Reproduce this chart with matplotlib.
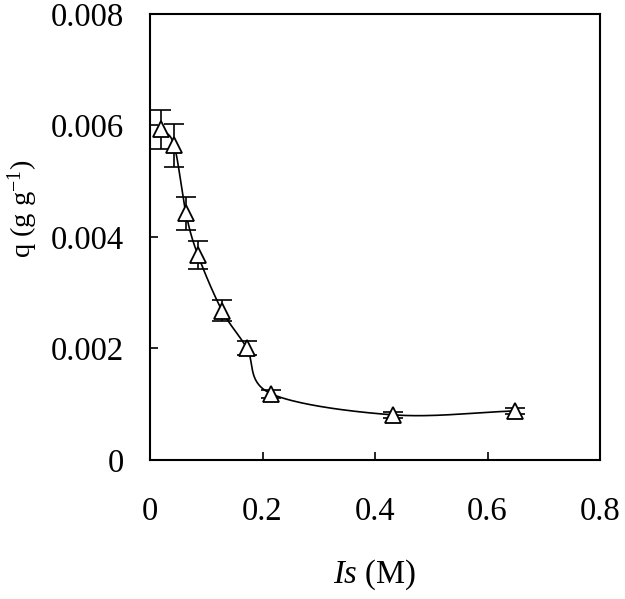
import numpy as np
import matplotlib
matplotlib.use('Agg')
import matplotlib.pyplot as plt

# values
ionic_strength = [0.020, 0.043, 0.064, 0.085, 0.128, 0.172, 0.215, 0.432, 0.649]
q_values = [0.00593, 0.00564, 0.00442, 0.00368, 0.00268, 0.00201, 0.00119, 0.00081, 0.00088]
q_errors = [0.00035, 0.00038, 0.00030, 0.00025, 0.00018, 0.00012, 0.00007, 0.00005, 0.00005]

x_ticks = [0, 0.2, 0.4, 0.6, 0.8]
x_tick_labels = ['0', '0.2', '0.4', '0.6', '0.8']
y_ticks = [0, 0.002, 0.004, 0.006, 0.008]
y_tick_labels = ['0', '0.002', '0.004', '0.006', '0.008']


def smooth_curve(xs, ys, n=40):
    # Catmull-Rom style smoothing, like a spreadsheet "smoothed line"
    xs = np.asarray(xs, float)
    ys = np.asarray(ys, float)
    px = np.concatenate([[2 * xs[0] - xs[1]], xs, [2 * xs[-1] - xs[-2]]])
    py = np.concatenate([[2 * ys[0] - ys[1]], ys, [2 * ys[-1] - ys[-2]]])
    out_x, out_y = [], []
    t = np.linspace(0, 1, n)
    for i in range(1, len(px) - 2):
        # Bezier control points
        c1x = px[i] + (px[i + 1] - px[i - 1]) / 6
        c1y = py[i] + (py[i + 1] - py[i - 1]) / 6
        c2x = px[i + 1] - (px[i + 2] - px[i]) / 6
        c2y = py[i + 1] - (py[i + 2] - py[i]) / 6
        bx = (1 - t) ** 3 * px[i] + 3 * (1 - t) ** 2 * t * c1x + 3 * (1 - t) * t ** 2 * c2x + t ** 3 * px[i + 1]
        by = (1 - t) ** 3 * py[i] + 3 * (1 - t) ** 2 * t * c1y + 3 * (1 - t) * t ** 2 * c2y + t ** 3 * py[i + 1]
        out_x.extend(bx)
        out_y.extend(by)
    return out_x, out_y


plt.rcParams['font.family'] = ['Liberation Serif', 'DejaVu Serif']
plt.rcParams['mathtext.fontset'] = 'custom'
plt.rcParams['mathtext.rm'] = 'Liberation Serif'
plt.rcParams['mathtext.it'] = 'Liberation Serif:italic'

fig = plt.figure(figsize=(6.25, 5.99), dpi=100)
ax = fig.add_axes([0.24, 0.232, 0.72, 0.745])

cx, cy = smooth_curve(ionic_strength, q_values)
ax.plot(cx, cy, color='black', linewidth=1.2)
ax.errorbar(ionic_strength, q_values, yerr=q_errors, fmt='none', ecolor='black',
            elinewidth=1.2, capsize=7, capthick=1.2)
ax.plot(ionic_strength, q_values, linestyle='none', marker='^', markersize=11,
        markerfacecolor='white', markeredgecolor='black', markeredgewidth=1.3)

ax.set_xlim(0, 0.8)
ax.set_ylim(0, 0.008)
ax.set_xticks(x_ticks)
ax.set_xticklabels(x_tick_labels)
ax.set_yticks(y_ticks)
ax.set_yticklabels(y_tick_labels)
ax.tick_params(direction='in', length=6, width=1.2, labelsize=23.5)
ax.tick_params(axis='x', pad=26)
ax.tick_params(axis='y', pad=19)
for spine in ax.spines.values():
    spine.set_linewidth(1.5)

ax.set_xlabel(r'$\mathit{Is}$ (M)', fontsize=23.5, labelpad=22)
ax.set_ylabel(r'q (g g$^{\mathregular{-1}}$)', fontsize=20.5)
ax.yaxis.set_label_coords(-0.245, 0.564)

fig.savefig('out.png', dpi=100)
